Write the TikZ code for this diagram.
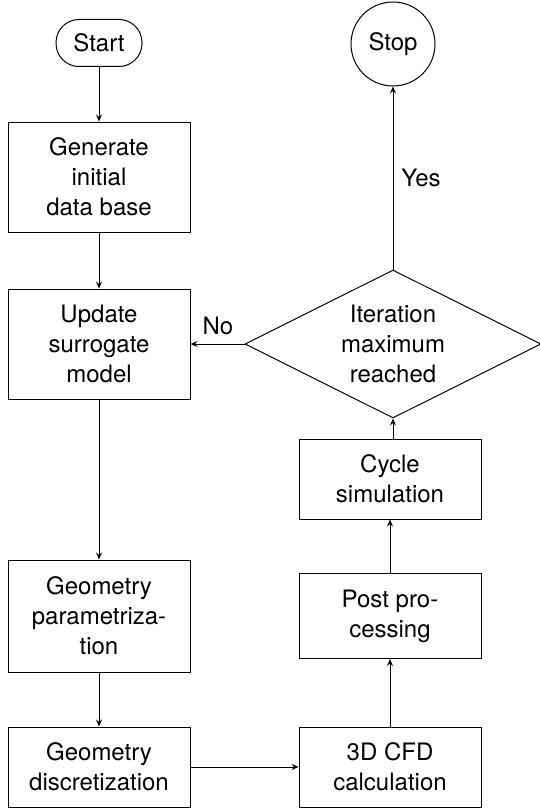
\documentclass[tikz,border=0pt]{standalone}
\usepackage{fontspec}
\setmainfont{TeX Gyre Heros}
\usetikzlibrary{shapes.geometric,arrows.meta}

\tikzset{
  base/.style={draw, line width=1pt, align=center, inner sep=0pt,
    font=\fontsize{24}{30}\selectfont},
  stepbox/.style={base, rectangle, minimum width=182pt},
  terminal/.style={base, rectangle, rounded corners=23pt,
    minimum width=86pt, minimum height=47pt},
  stopnode/.style={base, circle, minimum size=84pt},
  decision/.style={base, diamond, aspect=2, minimum width=296pt, minimum height=148pt},
  flow/.style={draw, line width=0.9pt, -{Stealth[length=7pt,width=6pt,inset=2.5pt]}},
  lbl/.style={font=\fontsize{24}{30}\selectfont, inner sep=0pt}
}

\begin{document}
\begin{tikzpicture}[x=1pt, y=-1pt]
  \useasboundingbox (0,0) rectangle (540,808);

  % left column
  \node[terminal] (start) at (99,43) {Start};
  \node[stepbox, minimum height=110pt] (gen) at (99,177) {Generate\\initial\\data base};
  \node[stepbox, minimum height=110pt] (upd) at (99,344) {Update\\surrogate\\model};
  \node[stepbox, minimum height=112pt] (par) at (99,616) {Geometry\\parametriza-\\tion};
  \node[stepbox, minimum height=80pt] (dis) at (99,767) {Geometry\\discretization};

  % right column
  \node[stepbox, minimum height=80pt] (cfd) at (390,767) {3D CFD\\calculation};
  \node[stepbox, minimum height=85pt] (post) at (390,616) {Post pro-\\cessing};
  \node[stepbox, minimum height=80pt] (cyc) at (390,479) {Cycle\\simulation};
  \node[decision] (dec) at (393,344) {Iteration\\maximum\\reached};
  \node[stopnode] (stop) at (393,44) {Stop};

  % connectors
  \draw[flow] (start) -- (gen);
  \draw[flow] (gen) -- (upd);
  \draw[flow] (upd) -- (par);
  \draw[flow] (par) -- (dis);
  \draw[flow] (dis) -- (cfd);
  \draw[flow] (cfd) -- (post);
  \draw[flow] (post) -- (cyc);
  \draw[flow] (cyc.north -| dec.south) -- (dec.south);
  \draw[flow] (dec.north) -- (stop.south);
  \draw[flow] (dec.west) -- (upd.east);

  % branch labels
  \node[lbl] (no) at (218,326) {No};
  \node[lbl] (yes) at (421,178) {Yes};
\end{tikzpicture}
\end{document}
